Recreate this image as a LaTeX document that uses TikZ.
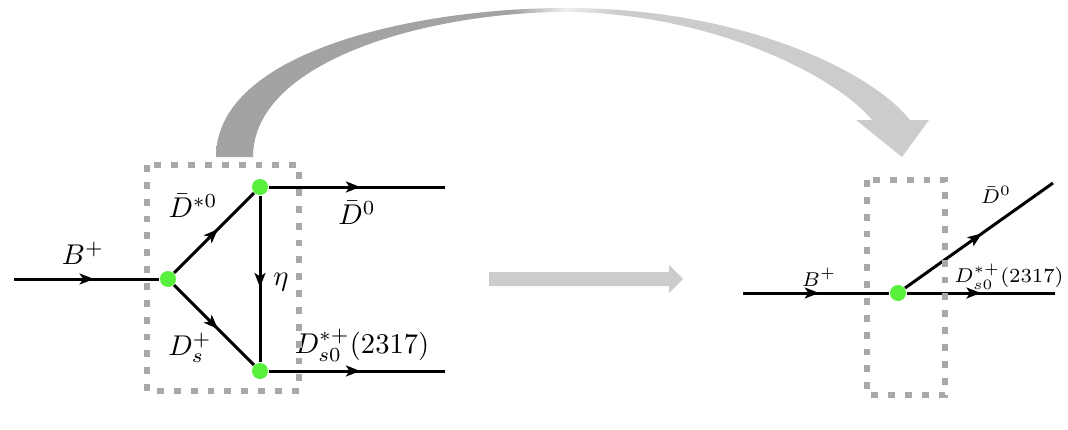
\documentclass[tikz,border=0pt]{standalone}
\usetikzlibrary{arrows.meta,decorations.markings}
\definecolor{vgreen}{RGB}{88,240,60}
\definecolor{dotgray}{RGB}{168,168,168}
\pgfdeclarehorizontalshading{curvshade}{100bp}{color(0bp)=(black!36); color(25bp)=(black!36); color(46bp)=(black!36); color(49.5bp)=(black!6); color(53bp)=(black!20); color(100bp)=(black!20)}
\tikzset{
  ln/.style={line width=1.05pt},
  midarr/.style={postaction={decorate},decoration={markings,mark=at position #1 with {\arrow{Stealth[length=5pt,width=3.8pt,inset=1.2pt]}}}},
  midarr/.default=0.5,
  vtx/.style={circle,fill=vgreen,inner sep=0pt,minimum size=5.6pt},
  dotbox/.style={draw=dotgray,line width=2.4pt,dash pattern=on 2.4pt off 3.5pt},
  lbl/.style={inner sep=0pt},
  slbl/.style={inner sep=0pt,font=\scriptsize},
}
\begin{document}
\begin{tikzpicture}[x=0.35pt,y=-0.35pt]
\useasboundingbox (0,0) rectangle (1068,430);
% curved arrow
\shade[shading=curvshade] (216,157) .. controls (216,50) and (420,8) .. (566,8)
  .. controls (740,8) and (870,70) .. (910,120) -- (929,120) -- (902,157) -- (856,120) -- (872,120)
  .. controls (835,75) and (710,13) .. (566,12) .. controls (430,12) and (253,60) .. (253,157) -- cycle;
% straight arrow
\fill[black!20] (489,272) -- (669,272) -- (669,265) -- (683,279) -- (669,293) -- (669,286) -- (489,286) -- cycle;
% left diagram
\coordinate (bin) at (14,279);
\coordinate (dout) at (445,187);
\coordinate (sout) at (445,371);
\node[vtx] (v1) at (168,279) {};
\node[vtx] (v2) at (260,187) {};
\node[vtx] (v3) at (260,371) {};
\draw[ln,midarr=0.55] (bin) -- (v1);
\draw[ln,midarr=0.55] (v1) -- (v2);
\draw[ln,midarr=0.55] (v1) -- (v3);
\draw[ln,midarr=0.55] (v2) -- (v3);
\draw[ln,midarr=0.52] (v2) -- (dout);
\draw[ln,midarr=0.52] (v3) -- (sout);
\node[lbl] (lb) at (83,253) {$B^+$};
\node[lbl] (ldst) at (193,206) {$\bar D^{*0}$};
\node[lbl] (ld0) at (357,213) {$\bar D^{0}$};
\node[lbl] (leta) at (281,282) {$\eta$};
\node[lbl] (lds) at (190,348) {$D_s^+$};
\node[lbl] (ldsz) at (362,345) {$D_{s0}^{*+}(2317)$};
\draw[dotbox] (147,165) rectangle (299,391);
% right diagram
\coordinate (rbin) at (743,293);
\coordinate (rdout) at (1053,183);
\coordinate (rsout) at (1055,293);
\node[vtx] (rv) at (898,293) {};
\draw[ln,midarr=0.52] (rbin) -- (rv);
\draw[ln,midarr=0.5] (rv) -- (rsout);
\draw[ln,midarr=0.52] (rv) -- (rdout);
\node[slbl] (rlb) at (819,277) {$B^+$};
\node[slbl] (rld0) at (996,195) {$\bar D^{0}$};
\node[slbl] (rldsz) at (1009,277) {$D_{s0}^{*+}(2317)$};
\draw[dotbox] (867,180) rectangle (945,395);
\end{tikzpicture}
\end{document}
